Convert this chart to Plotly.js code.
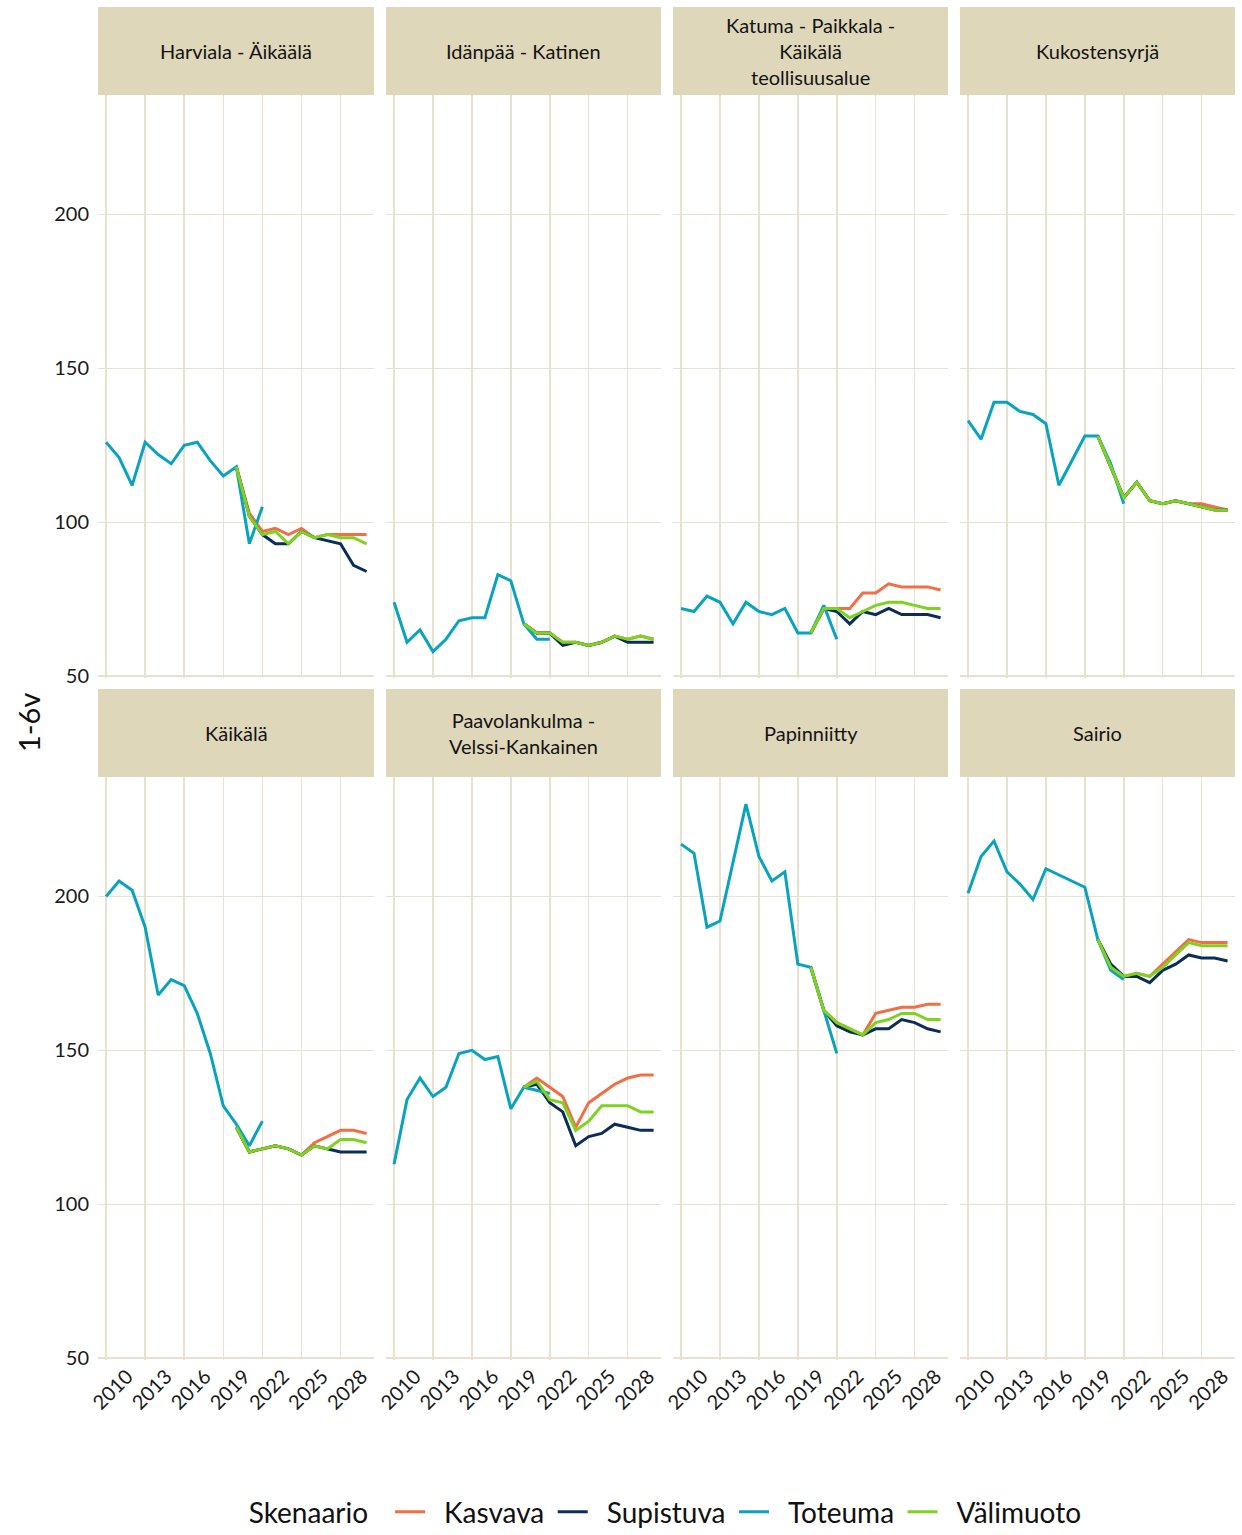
<!DOCTYPE html>
<html>
<head>
<meta charset="utf-8">
<script src="https://cdn.plot.ly/plotly-3.0.1.min.js"></script>
<style>html,body{margin:0;padding:0;background:#fff;}#chart{width:1242px;height:1535px;}</style>
</head>
<body>
<div id="chart"></div>
<script>
// ---- DATA ----
const yearsHist = [2010,2011,2012,2013,2014,2015,2016,2017,2018,2019,2020,2021,2022];
const yearsScen = [2020,2021,2022,2023,2024,2025,2026,2027,2028,2029,2030];
const seriesNames = ["Kasvava","Supistuva","Toteuma","Välimuoto"];
const panelTitles = ["Harviala - Äikäälä","Idänpää - Katinen","Katuma - Paikkala -<br>Käikälä<br>teollisuusalue","Kukostensyrjä",
                     "Käikälä","Paavolankulma -<br>Velssi-Kankainen","Papinniitty","Sairio"];
const xTicks = [2010,2013,2016,2019,2022,2025,2028];
const yTicks = [50,100,150,200];

const harviala_toteuma = [126,121,112,126,122,119,125,126,120,115,118,93,105];
const harviala_kasvava = [118,103,97,98,96,98,95,96,96,96,96];
const harviala_supistuva = [118,102,96,93,93,97,95,94,93,86,84];
const harviala_valimuoto = [118,102,96,97,93,97,95,96,95,95,93];

const idanpaa_toteuma = [74,61,65,58,62,68,69,69,83,81,67,62,62];
const idanpaa_kasvava = [67,64,64,61,61,60,61,63,62,63,62];
const idanpaa_supistuva = [67,64,64,60,61,60,61,63,61,61,61];
const idanpaa_valimuoto = [67,64,64,61,61,60,61,63,62,63,62];

const katuma_toteuma = [72,71,76,74,67,74,71,70,72,64,64,73,62];
const katuma_kasvava = [64,72,72,72,77,77,80,79,79,79,78];
const katuma_supistuva = [64,72,71,67,71,70,72,70,70,70,69];
const katuma_valimuoto = [64,72,72,69,71,73,74,74,73,72,72];

const kukosten_toteuma = [133,127,139,139,136,135,132,112,120,128,128,119,106];
const kukosten_kasvava = [128,118,108,113,107,106,107,106,106,105,104];
const kukosten_supistuva = [128,118,108,113,107,106,107,106,105,104,104];
const kukosten_valimuoto = [128,118,108,113,107,106,107,106,105,104,104];

const kaikala_toteuma = [200,205,202,190,168,173,171,162,149,132,126,119,127];
const kaikala_kasvava = [125,117,118,119,118,116,120,122,124,124,123];
const kaikala_supistuva = [125,117,118,119,118,116,119,118,117,117,117];
const kaikala_valimuoto = [125,117,118,119,118,116,119,118,121,121,120];

const paavola_toteuma = [113,134,141,135,138,149,150,147,148,131,138,137,136];
const paavola_kasvava = [138,141,138,135,125,133,136,139,141,142,142];
const paavola_supistuva = [138,139,133,130,119,122,123,126,125,124,124];
const paavola_valimuoto = [138,140,134,133,124,127,132,132,132,130,130];

const papin_toteuma = [217,214,190,192,211,230,213,205,208,178,177,163,149];
const papin_kasvava = [177,163,159,157,155,162,163,164,164,165,165];
const papin_supistuva = [177,163,158,156,155,157,157,160,159,157,156];
const papin_valimuoto = [177,163,159,157,155,159,160,162,162,160,160];

const sairio_toteuma = [201,213,218,208,204,199,209,207,205,203,186,176,173];
const sairio_kasvava = [186,177,174,175,174,178,182,186,185,185,185];
const sairio_supistuva = [186,178,174,174,172,176,178,181,180,180,179];
const sairio_valimuoto = [186,177,174,175,174,177,181,185,184,184,184];

// ---- BUILD ----
const panels = [
  [harviala_kasvava, harviala_supistuva, harviala_toteuma, harviala_valimuoto],
  [idanpaa_kasvava, idanpaa_supistuva, idanpaa_toteuma, idanpaa_valimuoto],
  [katuma_kasvava, katuma_supistuva, katuma_toteuma, katuma_valimuoto],
  [kukosten_kasvava, kukosten_supistuva, kukosten_toteuma, kukosten_valimuoto],
  [kaikala_kasvava, kaikala_supistuva, kaikala_toteuma, kaikala_valimuoto],
  [paavola_kasvava, paavola_supistuva, paavola_toteuma, paavola_valimuoto],
  [papin_kasvava, papin_supistuva, papin_toteuma, papin_valimuoto],
  [sairio_kasvava, sairio_supistuva, sairio_toteuma, sairio_valimuoto]
];
const colors = {"Kasvava":"#f26e45","Supistuva":"#0c2d57","Toteuma":"#0aa3bd","Välimuoto":"#7ed321"};

const W = 1242, H = 1535;
const cols = [[98,374],[386,661],[673,948],[960,1235]];
const rows = [[95,678],[777,1360]];
const strips = [[7,95],[689,777]];
const FONT = "Lato, 'Open Sans', sans-serif";
const gridColor = "#e8e1cd";
const PAD = "\u2002";

const traces = [];
const layout = {
  width: W, height: H,
  margin: {l:0, r:0, t:0, b:0, autoexpand: false},
  paper_bgcolor: "#ffffff", plot_bgcolor: "#ffffff",
  font: {family: FONT, color: "#1a1a1a"},
  showlegend: true,
  legend: {
    orientation: "h", x: 0.538, xanchor: "center", y: 1 - 1512/H, yanchor: "middle",
    font: {size: 28, family: FONT, color: "#111"},
    title: {text: "Skenaario" + PAD, font: {size: 28, family: FONT, color: "#111"}, side: "left"},
    itemwidth: 30, tracegroupgap: 0
  },
  shapes: [], annotations: []
};

panels.forEach((p, i) => {
  const r = Math.floor(i / 4), c = i % 4;
  const ax = i === 0 ? "" : String(i + 1);
  p.forEach((vals, k) => {
    const name = seriesNames[k];
    traces.push({
      type: "scatter", mode: "lines",
      x: name === "Toteuma" ? yearsHist : yearsScen,
      y: vals, name: PAD + name + "\u2009", legendgroup: name, showlegend: i === 0,
      line: {color: colors[name], width: 3},
      xaxis: "x" + ax, yaxis: "y" + ax, hoverinfo: "skip"
    });
  });
  layout["xaxis" + ax] = {
    domain: [cols[c][0] / W, cols[c][1] / W],
    anchor: "y" + ax, automargin: false,
    range: [2009.38, 2030.57],
    tickvals: xTicks, ticktext: xTicks.map(String),
    showticklabels: r === 1, tickangle: -45,
    tickfont: {size: 20, family: FONT, color: "#1a1a1a"},
    ticklabelshift: 21, ticklabelstandoff: 0,
    showgrid: true, gridcolor: gridColor, gridwidth: 1.5,
    zeroline: false, showline: false, ticks: ""
  };
  layout["yaxis" + ax] = {
    domain: [1 - rows[r][1] / H, 1 - rows[r][0] / H],
    anchor: "x" + ax, automargin: false,
    range: [49.4, 238.8],
    tickvals: yTicks, ticktext: yTicks.map(String),
    showticklabels: c === 0,
    tickfont: {size: 20, family: FONT, color: "#1a1a1a"},
    showgrid: true, gridcolor: gridColor, gridwidth: 1.5,
    zeroline: false, showline: false, ticks: "", ticklabelstandoff: 8
  };
  layout.shapes.push({
    type: "rect", xref: "paper", yref: "paper", layer: "below",
    x0: cols[c][0] / W, x1: cols[c][1] / W,
    y0: 1 - strips[r][1] / H, y1: 1 - strips[r][0] / H,
    fillcolor: "#dfd7ba", line: {width: 0}
  });
  layout.annotations.push({
    xref: "paper", yref: "paper",
    x: (cols[c][0] + cols[c][1]) / 2 / W,
    y: 1 - (strips[r][0] + strips[r][1]) / 2 / H,
    xanchor: "center", yanchor: "middle", showarrow: false,
    text: panelTitles[i],
    font: {size: 20, family: FONT, color: "#141414"}
  });
});

layout.annotations.push({
  xref: "paper", yref: "paper", x: 28 / W, y: 1 - 723 / H,
  xanchor: "center", yanchor: "middle", showarrow: false,
  text: "1-6v", textangle: -90,
  font: {size: 29, family: FONT, color: "#111"}
});

Plotly.newPlot("chart", traces, layout, {staticPlot: true, displayModeBar: false});
</script>
</body>
</html>
